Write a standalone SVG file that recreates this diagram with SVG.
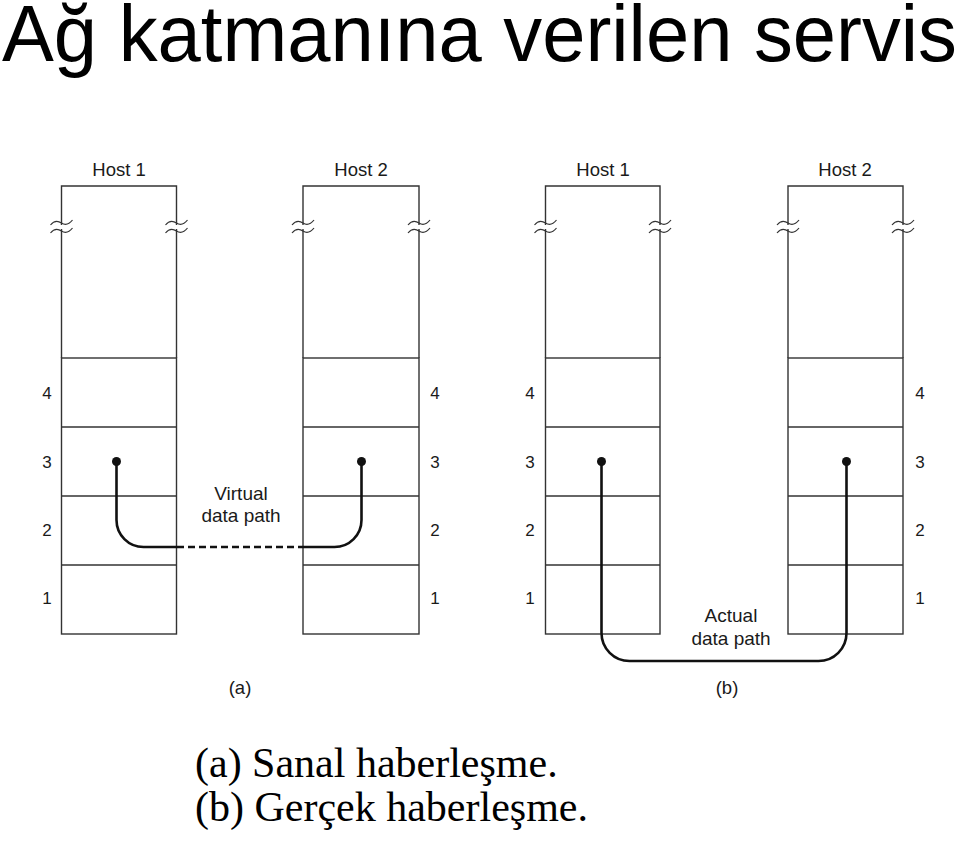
<svg xmlns="http://www.w3.org/2000/svg" width="960" height="847" viewBox="0 0 960 847">
<style>
  .col { fill: none; stroke: #333; stroke-width: 1.4; }
  .brk { fill: none; stroke: #333; stroke-width: 1.2; }
  .lbl { font-family: "Liberation Sans", Arial, sans-serif; font-size: 17px; fill: #1a1a1a; text-anchor: middle; }
  .host { font-family: "Liberation Sans", Arial, sans-serif; font-size: 18.5px; fill: #1a1a1a; text-anchor: middle; }
  .plbl { font-family: "Liberation Sans", Arial, sans-serif; font-size: 19px; fill: #1a1a1a; text-anchor: middle; }
  .path { fill: none; stroke: #111; stroke-width: 2.6; }
  .cap { font-family: "Liberation Serif", "Times New Roman", serif; font-size: 42px; fill: #000; }
</style>
<defs>
  <path id="wave" d="M-11,2 C-7,-3 -3,-2 0,0 S7,2 11,-3"/>
  <g id="brk">
    <use href="#wave" class="brk" transform="translate(0,223)"/>
    <use href="#wave" class="brk" transform="translate(0,231)"/>
  </g>
</defs>
<rect width="960" height="847" fill="#fff"/>
<text x="2" y="61" font-family="Liberation Sans, Arial, sans-serif" font-size="79" textLength="955" lengthAdjust="spacingAndGlyphs" fill="#000">Ağ katmanına verilen servis</text>

<g id="a-host1">
  <text class="host" x="119" y="176">Host 1</text>
  <polyline class="col" points="61.5,225 61.5,186 176.5,186 176.5,225"/>
  <rect class="col" x="61.5" y="358" width="115" height="276"/>
  <line class="col" x1="61.5" y1="229" x2="61.5" y2="358"/>
  <line class="col" x1="176.5" y1="229" x2="176.5" y2="358"/>
  <line class="col" x1="61.5" y1="427" x2="176.5" y2="427"/>
  <line class="col" x1="61.5" y1="496" x2="176.5" y2="496"/>
  <line class="col" x1="61.5" y1="565" x2="176.5" y2="565"/>
  <use href="#brk" transform="translate(61.5,0)"/>
  <use href="#brk" transform="translate(176.5,0)"/>
  <text class="lbl" x="47" y="399">4</text>
  <text class="lbl" x="47" y="468">3</text>
  <text class="lbl" x="47" y="536">2</text>
  <text class="lbl" x="47" y="604">1</text>
</g>

<g id="a-host2">
  <text class="host" x="361" y="176">Host 2</text>
  <polyline class="col" points="303,225 303,186 419,186 419,225"/>
  <rect class="col" x="303" y="358" width="116" height="276"/>
  <line class="col" x1="303" y1="229" x2="303" y2="358"/>
  <line class="col" x1="419" y1="229" x2="419" y2="358"/>
  <line class="col" x1="303" y1="427" x2="419" y2="427"/>
  <line class="col" x1="303" y1="496" x2="419" y2="496"/>
  <line class="col" x1="303" y1="565" x2="419" y2="565"/>
  <use href="#brk" transform="translate(303,0)"/>
  <use href="#brk" transform="translate(419,0)"/>
  <text class="lbl" x="435" y="399">4</text>
  <text class="lbl" x="435" y="468">3</text>
  <text class="lbl" x="435" y="536">2</text>
  <text class="lbl" x="435" y="604">1</text>
</g>

<g id="b-host1">
  <text class="host" x="603" y="176">Host 1</text>
  <polyline class="col" points="545.5,225 545.5,186 660,186 660,225"/>
  <rect class="col" x="545.5" y="358" width="114.5" height="276"/>
  <line class="col" x1="545.5" y1="229" x2="545.5" y2="358"/>
  <line class="col" x1="660" y1="229" x2="660" y2="358"/>
  <line class="col" x1="545.5" y1="427" x2="660" y2="427"/>
  <line class="col" x1="545.5" y1="496" x2="660" y2="496"/>
  <line class="col" x1="545.5" y1="565" x2="660" y2="565"/>
  <use href="#brk" transform="translate(545.5,0)"/>
  <use href="#brk" transform="translate(660,0)"/>
  <text class="lbl" x="530" y="399">4</text>
  <text class="lbl" x="530" y="468">3</text>
  <text class="lbl" x="530" y="536">2</text>
  <text class="lbl" x="530" y="604">1</text>
</g>

<g id="b-host2">
  <text class="host" x="845" y="176">Host 2</text>
  <polyline class="col" points="788,225 788,186 903,186 903,225"/>
  <rect class="col" x="788" y="358" width="115" height="276"/>
  <line class="col" x1="788" y1="229" x2="788" y2="358"/>
  <line class="col" x1="903" y1="229" x2="903" y2="358"/>
  <line class="col" x1="788" y1="427" x2="903" y2="427"/>
  <line class="col" x1="788" y1="496" x2="903" y2="496"/>
  <line class="col" x1="788" y1="565" x2="903" y2="565"/>
  <use href="#brk" transform="translate(788,0)"/>
  <use href="#brk" transform="translate(903,0)"/>
  <text class="lbl" x="920" y="399">4</text>
  <text class="lbl" x="920" y="468">3</text>
  <text class="lbl" x="920" y="536">2</text>
  <text class="lbl" x="920" y="604">1</text>
</g>

<g id="connectors">
  <circle cx="116.5" cy="461.5" r="4.5" fill="#111"/>
  <circle cx="361.5" cy="461.5" r="4.5" fill="#111"/>
  <path class="path" d="M116.5,461.5 V520 A27,27 0 0 0 143.5,547 H177"/>
  <path class="path" d="M177,547 H303" stroke-dasharray="7,4"/>
  <path class="path" d="M303,547 H334.5 A27,27 0 0 0 361.5,520 V461.5"/>
  <circle cx="601.5" cy="461.5" r="4.5" fill="#111"/>
  <circle cx="846.5" cy="461.5" r="4.5" fill="#111"/>
  <path class="path" d="M601.5,461.5 V633 A28,28 0 0 0 629.5,661 H818.5 A28,28 0 0 0 846.5,633 V461.5"/>
</g>

<g id="path-labels">
  <text class="plbl" x="241" y="500">Virtual</text>
  <text class="plbl" x="241" y="522">data path</text>
  <text class="plbl" x="731" y="622">Actual</text>
  <text class="plbl" x="731" y="645">data path</text>
  <text class="host" x="240" y="694">(a)</text>
  <text class="host" x="727" y="694">(b)</text>
</g>

<text class="cap" x="195" y="777">(a) Sanal haberleşme.</text>
<text class="cap" x="195" y="821">(b) Gerçek haberleşme.</text>
</svg>
